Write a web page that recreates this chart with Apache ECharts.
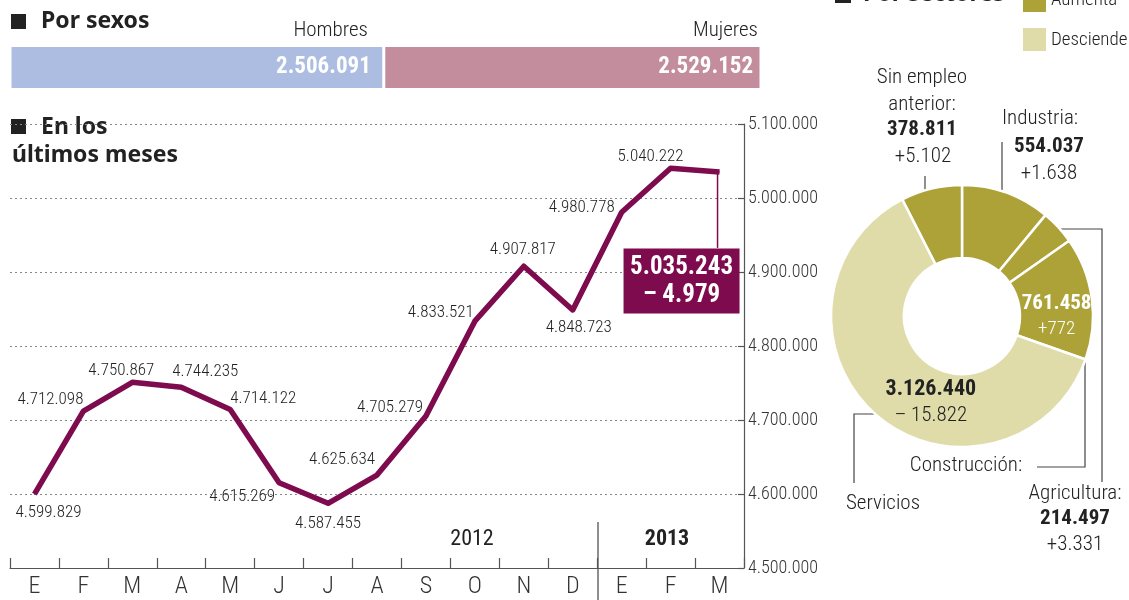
<!DOCTYPE html>
<html><head><meta charset="utf-8">
<script src="https://cdn.jsdelivr.net/npm/echarts@6/dist/echarts.min.js"></script>
<style>html,body{margin:0;padding:0;background:#fff}#c{width:1129px;height:600px}</style>
</head><body><div id="c"></div>
<script>
// ---- data ----
const months = ['E','F','M','A','M','J','J','A','S','O','N','D','E','F','M'];
const paro = [4599829,4712098,4750867,4744235,4714122,4615269,4587455,4625634,4705279,4833521,4907817,4848723,4980778,5040222,5035243];
const lastChange = -4979;
const yMin = 4500000, yMax = 5100000, yStep = 100000;
const years = ['2012','2013'];
const sexNames = ['Hombres','Mujeres'];
const sexValues = [2506091, 2529152];
const sectorNames = ['Industria','Agricultura','Construcción','Servicios','Sin empleo anterior'];
const sectorValues = [554037, 214497, 761458, 3126440, 378811];
const sectorChange = [1638, 3331, 772, -15822, 5102];
const legendNames = ['Aumenta','Desciende'];

// ---- styles ----
const COND = "'Roboto Condensed','DejaVu Sans Condensed',sans-serif";
const HEAD = "'Noto Sans',sans-serif";
const PURPLE = '#7d0b4e';
const OLIVE = '#aca237', LIGHT = '#dfdcaa';
const TXT = '#222';
// label offsets (px) of the line's value labels relative to their points
const labelOffsets = [[14,19],[-33,-11],[-11,-12],[24,-16],[33,-11],[-37,14],[0,20],[-35,-15],[-36,-8],[-34,-8],[-1,-16],[6,18],[-40,-4],[-20,-11],[-38,109]];

function fmt(n){ return Math.abs(n).toString().replace(/\B(?=(\d{3})+(?!\d))/g,'.'); }
function fmtChg(n){ return (n >= 0 ? '+' : '– ') + fmt(n); }

const chart = echarts.init(document.getElementById('c'), null, {renderer:'canvas'});
const sexTotal = sexValues.reduce((a,b)=>a+b,0);

const lineData = paro.map((v,i)=>{
  const o = labelOffsets[i];
  const item = {value:v, label:{position:[o[0]+0.5,o[1]+0.5]}};
  if (i === paro.length-1) {
    item.label = {
      position:[o[0]+0.5,o[1]+0.5],
      formatter: '{a|'+fmt(v)+'}\n{a|'+fmtChg(lastChange)+'}',
      backgroundColor: PURPLE, padding:[5,8,4,8], width:100,
      rich:{a:{fontFamily:COND, fontWeight:'bold', fontSize:25, color:'#fff', lineHeight:28, align:'center'}}
    };
  }
  return item;
});

const sectorData = sectorNames.map((n,i)=>{
  const d = {name:n, value:sectorValues[i], itemStyle:{color: sectorChange[i] >= 0 ? OLIVE : LIGHT}};
  if (n === 'Construcción') {
    d.label = {show:true, position:'inside', offset:[-2,14],
      formatter:'{v|'+fmt(sectorValues[i])+'}\n{c|'+fmtChg(sectorChange[i])+'}',
      rich:{v:{fontFamily:COND,fontWeight:'bold',fontSize:21,color:'#fff',lineHeight:26,align:'center'},
            c:{fontFamily:COND,fontWeight:300,fontSize:19,color:'#fff',lineHeight:26,align:'center'}}};
  } else if (n === 'Servicios') {
    d.label = {show:true, position:'inside', offset:[33,13],
      formatter:'{v|'+fmt(sectorValues[i])+'}\n{c|'+fmtChg(sectorChange[i])+'}',
      rich:{v:{fontFamily:COND,fontWeight:'bold',fontSize:22,color:'#222',lineHeight:26,align:'center'},
            c:{fontFamily:COND,fontWeight:300,fontSize:21,color:TXT,lineHeight:26,align:'center'}}};
  }
  return d;
});

function t(x,y,text,opt){
  return Object.assign({type:'text', x:x, y:y, silent:true, style:Object.assign({text:text, fill:TXT, font:"300 21px "+COND, align:'center', verticalAlign:'middle'}, opt||{})});
}
function pl(points){ return {type:'polyline', silent:true, shape:{points:points}, style:{stroke:'#444', lineWidth:1.2, fill:null}}; }

function sectorLabel(i){ return sectorNames[i] + ':'; }

const graphics = [
  // Por sexos
  {type:'rect', shape:{x:11,y:14,width:15,height:15}, style:{fill:'#222'}},
  t(41,21.5,'Por sexos',{font:"bold 23px "+HEAD, align:'left', fill:'#222'}),
  t(368,31,sexNames[0],{align:'right'}),
  t(758,31,sexNames[1],{align:'right'}),
  // En los últimos meses
  {type:'rect', shape:{x:11,y:119,width:15,height:15}, style:{fill:'#222'}},
  t(41,127,'En los',{font:"bold 23px "+HEAD, align:'left', fill:'#222'}),
  t(12,155,'últimos meses',{font:"bold 23px "+HEAD, align:'left', fill:'#222'}),
  // Por sectores (cut at top)
  {type:'rect', shape:{x:835,y:-10,width:16,height:13}, style:{fill:'#222'}},
  t(863,-6,'Por sectores',{font:"bold 23px "+HEAD, align:'left', fill:'#222'}),
  {type:'rect', shape:{x:1023,y:-11,width:23,height:23}, style:{fill:OLIVE}},
  t(1051,0,legendNames[0],{align:'left', font:"300 19px "+COND}),
  {type:'rect', shape:{x:1023,y:28,width:23,height:23}, style:{fill:LIGHT}},
  t(1051,40,legendNames[1],{align:'left', font:"300 19px "+COND}),
  // years
  t(472,539,years[0],{font:"normal 22px "+COND}),
  t(667,539,years[1],{font:"bold 22px "+COND, fill:'#222'}),
  {type:'line', shape:{x1:598,y1:522,x2:598,y2:600}, style:{stroke:'#444', lineWidth:1.2}},
  // Sin empleo anterior
  t(922,78,'Sin empleo'),
  t(922,105,'anterior:'),
  t(922,130,fmt(sectorValues[4]),{font:"bold 21px "+COND, fill:'#222'}),
  t(923,157,fmtChg(sectorChange[4])),
  pl([[925,176],[925,200]]),
  // Industria
  t(1040,119,sectorLabel(0)),
  t(1049,147,fmt(sectorValues[0]),{font:"bold 21px "+COND, fill:'#222'}),
  t(1049,174,fmtChg(sectorChange[0])),
  pl([[1002,142],[1002,199]]),
  // Agricultura
  pl([[1058,229],[1102,229],[1102,482]]),
  t(1075,494,sectorLabel(1)),
  t(1075,519,fmt(sectorValues[1]),{font:"bold 21px "+COND, fill:'#222'}),
  t(1075,545,fmtChg(sectorChange[1])),
  // Construcción
  pl([[1085,352],[1085,467],[1037,467]]),
  t(966,466,sectorLabel(2)),
  // Servicios
  pl([[888,414],[854,414],[854,483]]),
  t(883,504,sectorNames[3])
];

chart.setOption({
  animation:false,
  grid:[
    {left:10, right:385, top:124, bottom:32, outerBoundsMode:'none'},
    {left:10, top:45.5, width:751, height:44, outerBoundsMode:'none'}
  ],
  xAxis:[
    {type:'category', gridIndex:0, data:months, boundaryGap:true,
     axisLine:{show:true, lineStyle:{color:'#555', width:1.2}},
     axisTick:{show:true, inside:true, length:10, lineStyle:{color:'#555', width:1.2}},
     axisLabel:{fontFamily:COND, fontWeight:300, fontSize:24, color:'#333', margin:7},
     splitLine:{show:false}},
    {type:'value', gridIndex:1, min:0, max:sexTotal, show:false}
  ],
  yAxis:[
    {type:'value', gridIndex:0, position:'right', min:yMin, max:yMax, interval:yStep,
     axisLine:{show:true, lineStyle:{color:'#555', width:1.2}},
     axisTick:{show:true, inside:true, length:6, lineStyle:{color:'#555', width:1.2}},
     axisLabel:{fontFamily:COND, fontWeight:300, fontSize:18, color:'#333', margin:4, formatter:v=>fmt(v)},
     splitLine:{show:true, lineStyle:{type:[2,3], color:'#888', width:1}}},
    {type:'category', gridIndex:1, data:['x'], show:false}
  ],
  series:[
    {type:'line', xAxisIndex:0, yAxisIndex:0, data:lineData, symbol:'circle', symbolSize:1,
     itemStyle:{color:PURPLE}, lineStyle:{color:PURPLE, width:5.5, join:'round'},
     label:{show:true, formatter:p=>fmt(p.value), fontFamily:COND, fontWeight:300, fontSize:17, color:TXT, align:'center', verticalAlign:'middle'},
     emphasis:{disabled:true}, silent:true, z:3},
    {type:'bar', xAxisIndex:1, yAxisIndex:1, stack:'sex', name:sexNames[0], data:[sexValues[0]], barWidth:44,
     itemStyle:{color:'#adbde1', borderColor:'#fff', borderWidth:1.5},
     label:{show:true, position:'insideRight', distance:13, formatter:p=>fmt(p.value), color:'#fff', fontFamily:COND, fontWeight:'bold', fontSize:23},
     silent:true},
    {type:'bar', xAxisIndex:1, yAxisIndex:1, stack:'sex', name:sexNames[1], data:[sexValues[1]], barWidth:44,
     itemStyle:{color:'#c48d9e', borderColor:'#fff', borderWidth:1.5},
     label:{show:true, position:'insideRight', distance:8, formatter:p=>fmt(p.value), color:'#fff', fontFamily:COND, fontWeight:'bold', fontSize:23},
     silent:true},
    {type:'pie', center:[962,316], radius:[58,131], startAngle:90, clockwise:true,
     data:sectorData, label:{show:false}, labelLine:{show:false},
     itemStyle:{borderColor:'#fff', borderWidth:2.5}, emphasis:{disabled:true}, silent:true}
  ],
  graphic: graphics
});

// connector from last point down to its callout box
const p = chart.convertToPixel({seriesIndex:0}, [paro.length-1, paro[paro.length-1]]);
chart.setOption({graphic: graphics.concat([
  {type:'line', silent:true, shape:{x1:p[0]-2, y1:p[1], x2:p[0]-2, y2:p[1]+76}, style:{stroke:PURPLE, lineWidth:1.5}, z:1}
])});
</script></body></html>
